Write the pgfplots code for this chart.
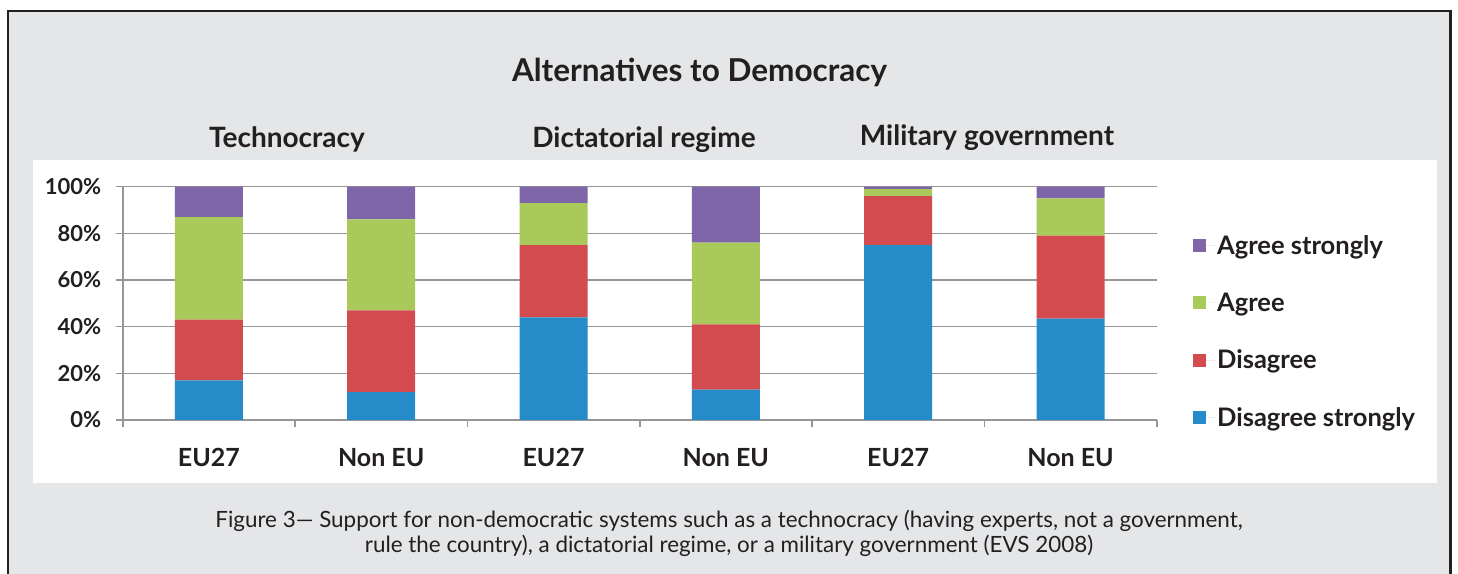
\documentclass[border=0pt]{standalone}
\usepackage{pgfplots}
\pgfplotsset{compat=1.18}
\usepackage{fontspec}
\setmainfont{Lato}
\definecolor{bgray}{HTML}{E5E6E8}
\definecolor{cblue}{HTML}{268BC9}
\definecolor{cred}{HTML}{D34B4E}
\definecolor{cgreen}{HTML}{A9C95B}
\definecolor{cpurple}{HTML}{7F66A9}
\definecolor{gridc}{HTML}{969696}
\definecolor{txt}{HTML}{231F20}
\begin{document}
\begin{tikzpicture}[x=1pt,y=1pt]
\useasboundingbox (0,0) rectangle (1458,573);
\begin{scope}
\clip (0,0) rectangle (1458,573);
\fill[bgray] (8,-10) rectangle (1450.5,562);
\draw[line width=2.5pt, color=txt] (8,-10) -- (8,562) -- (1450.5,562) -- (1450.5,-10);
\end{scope}
\fill[white] (33,90) rectangle (1437,413);
\node[anchor=base, font=\bfseries\fontsize{31.5}{33}\selectfont, text=txt] at (699.5,491) {Alternatives to Democracy};
\node[anchor=base, font=\bfseries\fontsize{28}{30}\selectfont, text=txt] at (287,425) {Technocracy};
\node[anchor=base, font=\bfseries\fontsize{28}{30}\selectfont, text=txt] at (644,425) {Dictatorial regime};
\node[anchor=base, font=\bfseries\fontsize{28}{30}\selectfont, text=txt] at (987,427) {Military government};
\node[anchor=base, font=\fontsize{22.4}{24}\selectfont, text=txt] at (729,46) {Figure 3— Support for non-democratic systems such as a technocracy (having experts, not a government,};
\node[anchor=base, font=\fontsize{22.4}{24}\selectfont, text=txt] at (729,21) {rule the country), a dictatorial regime, or a military government (EVS 2008)};
\begin{axis}[
  at={(122.7pt,153pt)}, anchor=south west,
  scale only axis, width=1034pt, height=233.3pt,
  xmin=0, xmax=6, ymin=0, ymax=100,
  ybar stacked, bar width=68pt,
  axis x line*=bottom, axis y line*=left,
  axis line style={draw=gridc, line width=1.6pt, -},
  xtick={0,1,...,6}, xticklabels={},
  extra x ticks={0.5,1.5,2.5,3.5,4.5,5.5},
  extra x tick labels={EU27,Non EU,EU27,Non EU,EU27,Non EU},
  extra x tick style={major tick length=0pt, tick label style={font=\bfseries\fontsize{25}{27}\selectfont, text=txt, yshift=-25pt}},
  ytick={0,20,...,100},
  ymajorgrids, grid style={draw=gridc, line width=1.6pt},
  tick style={draw=gridc, line width=1.6pt},
  tick align=outside, major tick length=7pt,
  /pgf/number format/assume math mode=true,
  yticklabel={\pgfmathprintnumber{\tick}\%},
  yticklabel style={font=\bfseries\fontsize{22}{24}\selectfont, text=txt, xshift=-11pt},
  legend style={at={(1.035,0.80)}, anchor=north west, draw=none, fill=none,
    font=\bfseries\fontsize{25.5}{27}\selectfont, text=txt, row sep=33pt, inner sep=0pt},
  legend cell align=left,
  reverse legend,
  legend image code/.code={\fill[#1] (0pt,-6.5pt) rectangle (13pt,6.5pt); \path (13pt,0pt) -- (22pt,0pt);},
]
\addplot[fill=cblue, draw=none] coordinates {(0.5,17) (1.5,12) (2.5,44) (3.5,13) (4.5,75) (5.5,43.5)};
\addlegendentry{Disagree strongly}
\addplot[fill=cred, draw=none] coordinates {(0.5,26) (1.5,35) (2.5,31) (3.5,28) (4.5,21) (5.5,35.5)};
\addlegendentry{Disagree}
\addplot[fill=cgreen, draw=none] coordinates {(0.5,44) (1.5,39) (2.5,18) (3.5,35) (4.5,3) (5.5,16)};
\addlegendentry{Agree}
\addplot[fill=cpurple, draw=none] coordinates {(0.5,13) (1.5,14) (2.5,7) (3.5,24) (4.5,1) (5.5,5)};
\addlegendentry{Agree strongly}
\end{axis}
\end{tikzpicture}
\end{document}
